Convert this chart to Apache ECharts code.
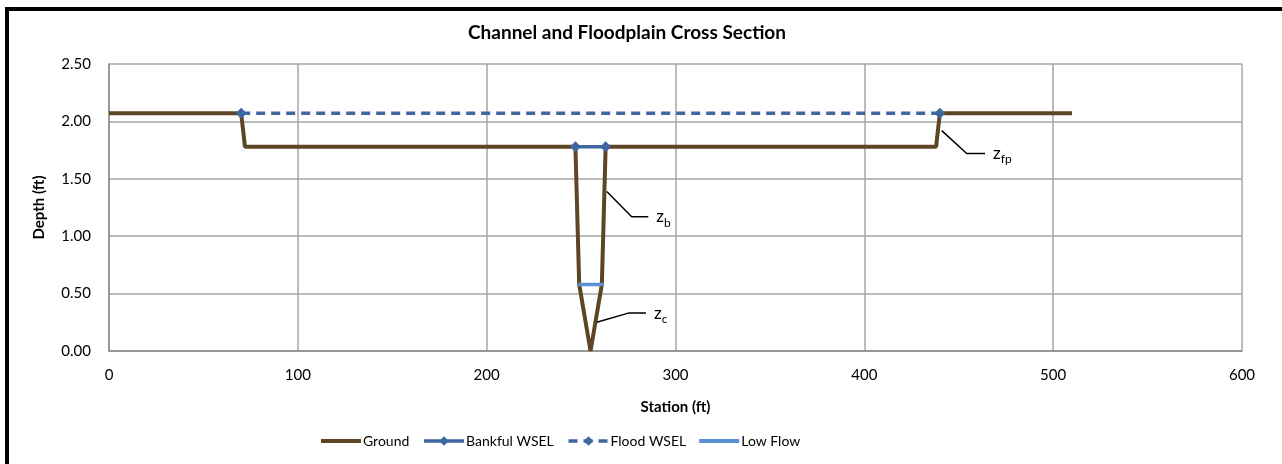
<!DOCTYPE html>
<html><head><meta charset="utf-8">
<script src="https://cdn.jsdelivr.net/npm/echarts@6/dist/echarts.min.js"></script>
<style>html,body{margin:0;padding:0;background:#fff}#c{width:1282px;height:464px}</style>
</head><body><div id="c"></div>
<script>
// Data (station ft, depth ft)
var groundX = [0, 70, 72, 247, 249, 255, 261, 263, 438, 440, 510];
var groundY = [2.07, 2.07, 1.78, 1.78, 0.58, 0, 0.58, 1.78, 1.78, 2.07, 2.07];
var bankfulX = [247, 263];
var bankfulY = [1.78, 1.78];
var floodX = [70, 440];
var floodY = [2.07, 2.07];
var lowFlowX = [248.5, 261.8];
var lowFlowY = [0.58, 0.58];
var xTicks = [0, 100, 200, 300, 400, 500, 600];
var yTicks = [0, 0.5, 1, 1.5, 2, 2.5];
// Annotation leader lines (station, depth)
var annoBX = [263.6, 276.8, 285.6], annoBY = [1.39, 1.17, 1.17];
var annoCX = [258.3, 275.0, 284.4], annoCY = [0.25, 0.33, 0.33];
var annoFX = [441.0, 454.2, 463.9], annoFY = [1.92, 1.72, 1.72];

function pairs(xs, ys){ return xs.map(function(x,i){return [x, ys[i]];}); }
var FONT = 'Lato';
function anno(xs, ys, sub){
  return {
    type:'line', data:pairs(xs, ys), symbol:'none', silent:true, z:5,
    lineStyle:{color:'#000', width:1.5},
    endLabel:{show:true, distance:8, fontFamily:FONT,
      formatter:function(){ return '{z|z}{s|'+sub+'}'; },
      rich:{z:{fontSize:17, fontFamily:FONT, color:'#000'}, s:{fontSize:12, fontFamily:FONT, color:'#000', padding:[12,0,0,0]}}
    }
  };
}
var lineIcon = 'path://M0,0L40,0L40,4L0,4Z';

var chart = echarts.init(document.getElementById('c'), null, {renderer:'canvas'});
chart.setOption({
  animation:false,
  textStyle:{fontFamily:FONT},
  title:{text:'Channel and Floodplain Cross Section', left:622, top:18, textAlign:'center',
    textStyle:{fontFamily:FONT, fontWeight:'bold', fontSize:19, color:'#000'}},
  graphic:[
    {type:'rect', shape:{x:5, y:7, width:1290, height:4}, style:{fill:'#000'}},
    {type:'rect', shape:{x:5, y:7, width:4, height:470}, style:{fill:'#000'}}
  ],
  grid:{left:109, right:40, top:64, bottom:113, show:false},
  legend:{
    left:316, top:429, itemWidth:40, itemHeight:12, itemGap:13,
    textStyle:{fontFamily:FONT, fontSize:14, color:'#000', padding:[0,0,0,-3]},
    lineStyle:{width:3.5},
    data:[{name:'Ground', icon:lineIcon},'Bankful WSEL','Flood WSEL',{name:'Low Flow', icon:lineIcon}]
  },
  xAxis:{
    type:'value', min:xTicks[0], max:xTicks[xTicks.length-1], interval:100,
    name:'Station (ft)', nameLocation:'middle', nameGap:49,
    nameTextStyle:{fontFamily:FONT, fontWeight:'bold', fontSize:15, color:'#000'},
    axisLine:{show:true, onZero:false, lineStyle:{color:'#8c8c8c', width:1.5}},
    axisTick:{show:false},
    axisLabel:{margin:17, fontFamily:FONT, fontSize:15, color:'#000'},
    splitLine:{show:true, lineStyle:{color:'#a6a6a6', width:1.5}}
  },
  yAxis:{
    type:'value', min:yTicks[0], max:yTicks[yTicks.length-1], interval:0.5,
    name:'Depth (ft)', nameLocation:'middle', nameGap:62, nameRotate:90,
    nameTextStyle:{fontFamily:FONT, fontWeight:'bold', fontSize:15, color:'#000'},
    axisLine:{show:true, lineStyle:{color:'#8c8c8c', width:1.5}},
    axisTick:{show:false},
    axisLabel:{margin:18, fontFamily:FONT, fontSize:15, color:'#000', formatter:function(v){return v.toFixed(2);}},
    splitLine:{show:true, lineStyle:{color:'#a6a6a6', width:1.5}}
  },
  series:[
    {name:'Ground', type:'line', data:pairs(groundX, groundY), symbol:'none', z:3,
     lineStyle:{color:'#5e4526', width:4}, itemStyle:{color:'#5e4526'}},
    {name:'Bankful WSEL', type:'line', data:pairs(bankfulX, bankfulY), symbol:'diamond', symbolSize:11, z:4,
     lineStyle:{color:'#3d679e', width:3.5}, itemStyle:{color:'#3d679e'}},
    {name:'Flood WSEL', type:'line', data:pairs(floodX, floodY), symbol:'diamond', symbolSize:11, z:4,
     lineStyle:{color:'#3d679e', width:3.5, type:[9,6]}, itemStyle:{color:'#3d679e'}},
    {name:'Low Flow', type:'line', data:pairs(lowFlowX, lowFlowY), symbol:'none', z:4,
     lineStyle:{color:'#5b8fd6', width:3.5}, itemStyle:{color:'#5b8fd6'}},
    anno(annoBX, annoBY, 'b'),
    anno(annoCX, annoCY, 'c'),
    anno(annoFX, annoFY, 'fp')
  ]
});
</script></body></html>
